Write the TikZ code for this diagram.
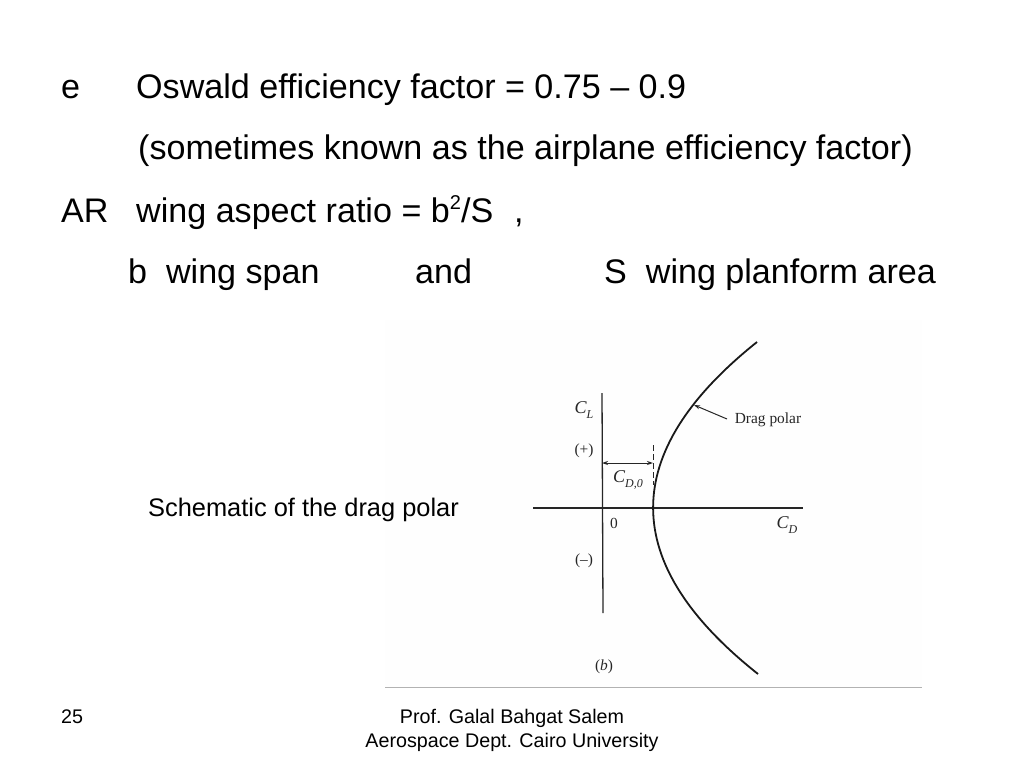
\documentclass[tikz,border=0pt]{standalone}
\usepackage{fontspec}
\setmainfont{Liberation Sans}
\newfontfamily\scanfont{Liberation Serif}
\usetikzlibrary{arrows.meta}
\definecolor{scanink}{gray}{0.15}
\newcommand{\scansub}[2]{{\itshape #1\raisebox{-0.28em}{\fontsize{12}{12}\selectfont #2}}}
\tikzset{
  x=1pt,y=-1pt,
  bigtext/.style={anchor=base west,inner sep=0pt,font=\fontsize{34.1}{34.1}\selectfont},
  midtext/.style={anchor=base west,inner sep=0pt,font=\fontsize{25.4}{25.4}\selectfont},
  foot/.style={inner sep=0pt,font=\fontsize{19.7}{19.7}\selectfont},
  scanlab/.style={inner sep=0pt,text=scanink,font=\scanfont\fontsize{15.4}{15.4}\selectfont},
  scansym/.style={inner sep=0pt,text=scanink,font=\scanfont\fontsize{18}{18}\selectfont},
  axisline/.style={draw=scanink,line width=1.3pt},
  thin scan/.style={draw=scanink,line width=1pt},
}
\begin{document}
\begin{tikzpicture}
\useasboundingbox (0,0) rectangle (1024,768);
\fill[white] (0,0) rectangle (1024,768);
\fill[black!0.4] (385,320) rectangle (922,687);
\draw[black!30,line width=1pt] (385,687) -- (922,687);
% heading text
\node[bigtext] (e) at (61,98) {e};
\node[bigtext] (oswald) at (136,98) {Oswald efficiency factor = 0.75 – 0.9};
\node[bigtext] (known) at (138,159) {(sometimes known as the airplane efficiency factor)};
\node[bigtext] (ar) at (61,222) {AR};
\node[bigtext] (aspect) at (136,222) {wing aspect ratio = b\raisebox{0.36em}{\fontsize{20}{20}\selectfont 2}/S};
\node[bigtext] (comma) at (514,222) {,};
\node[bigtext] (span) at (128,283) {b\ \ wing span};
\node[bigtext] (and) at (415,283) {and};
\node[bigtext] (planform) at (604,283) {S\ \ wing planform area};
\node[midtext] (caption) at (148,516) {Schematic of the drag polar};
% footer
\node[foot,anchor=base west] (page) at (61,723) {25};
\node[foot,anchor=base] (prof) at (512,723) {Prof. Galal Bahgat Salem};
\node[foot,anchor=base] (dept) at (512,747) {Aerospace Dept. Cairo University};
% axes
\coordinate (vtop) at (602,393);
\coordinate (vbot) at (603,613);
\coordinate (hleft) at (533,508);
\coordinate (hright) at (803,508);
\draw[axisline] (vtop) -- (vbot);
\draw[axisline] (hleft) -- (hright);
% polar
\coordinate (ptop) at (757,342);
\coordinate (pbot) at (758,674);
\draw[black!90,line width=1.8pt] (ptop) .. controls (618.3,452.7) and (618.3,563.3) .. (pbot);
% dimension
\coordinate (dtop) at (653,445);
\coordinate (dbot) at (653,485);
\draw[thin scan,dash pattern=on 6pt off 3pt] (dtop) -- (dbot);
\coordinate (dl) at (602,463);
\coordinate (dr) at (653,463);
\draw[thin scan,{Stealth[length=6pt,width=4pt]}-{Stealth[length=6pt,width=4pt]}] (dl) -- (dr);
% leader
\coordinate (ltip) at (694,405);
\coordinate (lend) at (727,419);
\draw[thin scan,-{Stealth[length=6pt,width=4pt]}] (lend) -- (ltip);
% labels
\node[scansym] (cl) at (584,410) {\scansub{C}{L}};
\node[scanlab] (plus) at (584,451) {(+)};
\node[scanlab] (minus) at (584,561) {(–)};
\node[scanlab] (zero) at (614,523) {0};
\node[scansym] (cd0) at (628,480) {\scansub{C}{D,0}};
\node[scansym] (cd) at (787,525) {\scansub{C}{D}};
\node[scanlab] (polar) at (768,420) {Drag polar};
\node[scanlab] (b) at (604,667) {(\textit{b})};
\end{tikzpicture}
\end{document}
